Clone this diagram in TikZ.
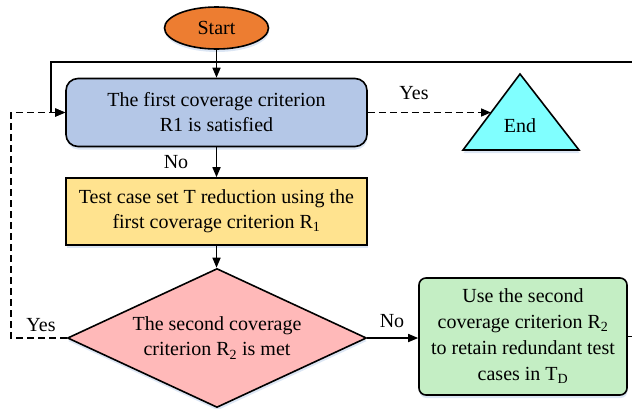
\documentclass[tikz,border=0pt]{standalone}
\usepackage{fontspec}
\setmainfont{Liberation Serif}
\usetikzlibrary{shapes.geometric,arrows.meta,shadows}
\definecolor{startor}{HTML}{ED7D31}
\definecolor{bluebox}{HTML}{B4C7E7}
\definecolor{yellowbox}{HTML}{FFE38F}
\definecolor{pinkd}{HTML}{FFB9B9}
\definecolor{greenbox}{HTML}{C4EEC4}
\definecolor{cyantri}{HTML}{80FFFF}
\definecolor{shadowc}{HTML}{DCE6F4}
\begin{document}
\begin{tikzpicture}[x=1pt,y=-1pt,
  every node/.style={font=\rmfamily\fontsize{20}{25}\selectfont},
  shad/.style={drop shadow={shadow xshift=0.5pt, shadow yshift=-3pt, fill=shadowc, opacity=1}},
  box/.style={draw=black, line width=1.6pt, align=center, inner sep=0pt, shad},
  conn/.style={line width=1.6pt, -{Triangle[length=10pt,width=8pt]}},
  dsh/.style={dash pattern=on 7pt off 4pt},
  lbl/.style={inner sep=0pt},
]
\useasboundingbox (0,0) rectangle (632,408);

\node[box, ellipse, fill=startor, minimum width=104pt, minimum height=42pt] (start) at (216.5,28) {Start};
\node[box, rounded corners=12pt, fill=bluebox, minimum width=301pt, minimum height=68pt] (c1) at (216.5,112.5) {The first coverage criterion\\R1 is satisfied};
\node[box, fill=yellowbox, minimum width=301pt, minimum height=67pt] (red) at (216.5,211.5) {Test case set T reduction using the\\first coverage criterion R\textsubscript{1}};
\node[box, diamond, aspect=2.15, fill=pinkd, minimum width=299pt, minimum height=139pt] (c2) at (217,338) {The second coverage\\criterion R\textsubscript{2} is met};
\node[box, rounded corners=7pt, fill=greenbox, minimum width=208pt, minimum height=117pt, font=\rmfamily\fontsize{20}{26}\selectfont] (use) at (523,336.5) {Use the second\\coverage criterion R\textsubscript{2}\\to retain redundant test\\cases in T\textsubscript{D}};

\draw[line width=1.6pt, fill=cyantri, shad] (520,74) -- (579,150) -- (463,150) -- cycle;
\node (endt) at (520,126) {End};
\coordinate (endin) at (491,112.5);

\coordinate (loopR) at (634,62);
\coordinate (loopL) at (51,62);
\coordinate (dl) at (11,338);

\node[lbl] (yes1) at (414,93) {Yes};
\node[lbl] (no1) at (176,162) {No};
\node[lbl] (yes2) at (41,325) {Yes};
\node[lbl] (no2) at (392,321) {No};

\draw[conn] (start) -- (c1);
\draw[conn] (c1) -- (red);
\draw[conn] (red.south) -- (red.south |- c2.north);
\draw[conn] (c2.east) -- (c2.east -| use.west);
\draw[conn, dsh] (c1.east) -- (endin);
\draw[conn] (use.east) -| (loopR) -- (loopL) |- (c1.west);
\draw[conn, dsh] (c2.west) -- (dl) |- (c1.west);
\end{tikzpicture}
\end{document}
